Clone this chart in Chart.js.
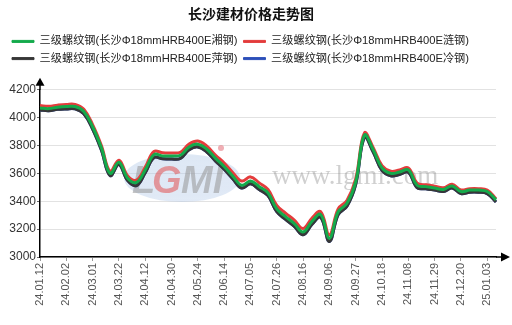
<!DOCTYPE html>
<html>
<head>
<meta charset="utf-8">
<script src="https://cdn.jsdelivr.net/npm/chart.js@4.4.1/dist/chart.umd.min.js"></script>
<style>
  body { margin: 0; background: #fff; }
  #wrap { width: 512px; height: 325px; }
</style>
</head>
<body>
<div id="wrap"><canvas id="chartPrice"></canvas></div>
<script>
// weekly-ish sample points, every 3rd one is a printed tick
var dates = ['24.01.12','24.01.19','24.01.26','24.02.02','24.02.07','24.02.21','24.03.01','24.03.08','24.03.15',
     '24.03.22','24.03.29','24.04.03','24.04.12','24.04.19','24.04.26','24.04.30','24.05.11','24.05.17',
     '24.05.24','24.05.31','24.06.07','24.06.14','24.06.21','24.06.28','24.07.05','24.07.12','24.07.19',
     '24.07.26','24.08.02','24.08.09','24.08.16','24.08.23','24.08.30','24.09.06','24.09.13','24.09.20',
     '24.09.27','24.10.10','24.10.14','24.10.18','24.10.25','24.11.01','24.11.08','24.11.15','24.11.22',
     '24.11.29','24.12.06','24.12.13','24.12.20','24.12.27','24.12.31','25.01.03','25.01.10'];

var xiangGang = [4070,4065,4075,4080,4080,4045,3935,3785,3600,3680,3565,3535,3625,3735,3725,3725,3730,3790,
     3810,3775,3710,3650,3580,3515,3545,3505,3460,3345,3290,3240,3180,3255,3305,3135,3325,3385,
     3540,3875,3770,3640,3600,3610,3625,3515,3505,3495,3485,3510,3470,3480,3480,3470,3410];

var lianGang = [4087,4082,4090,4095,4095,4060,3950,3800,3615,3695,3582,3552,3645,3757,3748,3747,3752,3810,
     3832,3797,3732,3675,3605,3545,3575,3532,3485,3370,3315,3265,3205,3278,3325,3160,3345,3405,
     3560,3890,3785,3655,3615,3625,3640,3530,3518,3508,3497,3522,3482,3490,3490,3480,3418];

var pingGang = [4055,4050,4060,4063,4063,4028,3918,3768,3585,3663,3548,3513,3605,3713,3705,3703,3707,3770,
     3790,3755,3690,3630,3560,3495,3525,3485,3440,3325,3270,3220,3160,3233,3285,3112,3305,3365,
     3522,3860,3753,3622,3583,3592,3608,3498,3490,3480,3470,3495,3455,3465,3465,3455,3395];

var lengGang = [4055,4050,4060,4063,4063,4028,3918,3768,3585,3663,3548,3513,3605,3713,3705,3703,3707,3770,
     3790,3755,3690,3630,3560,3495,3525,3485,3440,3325,3270,3220,3160,3233,3285,3112,3305,3365,
     3522,3860,3753,3622,3583,3592,3608,3498,3490,3480,3470,3495,3455,3465,3465,3455,3395];

var seriesNames = ['三级螺纹钢(长沙Φ18mmHRB400E湘钢)','三级螺纹钢(长沙Φ18mmHRB400E涟钢)',
     '三级螺纹钢(长沙Φ18mmHRB400E萍钢)','三级螺纹钢(长沙Φ18mmHRB400E冷钢)'];
var seriesColors = ['rgb(20,170,75)','rgb(228,60,60)','rgb(55,55,55)','rgb(45,80,185)'];

var yTicks = [3000,3200,3400,3600,3800,4000,4200];

var FONT = '"Liberation Sans", Arial, "Noto Sans CJK SC", sans-serif';

function makeSet(i, values){
     return {
          label: seriesNames[i],
          data: values,
          borderColor: seriesColors[i],
          backgroundColor: seriesColors[i],
          borderWidth: 3,
          pointRadius: 0,
          tension: 0.4
     };
}

// faint watermark + axis arrows
var decor = {
     id: 'decor',
     beforeInit: function(chart){
          var fit = chart.legend.fit;
          chart.legend.fit = function(){
               fit.bind(chart.legend)();
               this.height = 60;
          };
     },
     beforeDatasetsDraw: function(chart){
          var c = chart.ctx;
          c.save();
          var g = c.createLinearGradient(0,152,0,203);
          g.addColorStop(0,'rgba(190,210,235,0.5)');
          g.addColorStop(1,'rgba(170,195,230,0.35)');
          c.fillStyle = g;
          c.beginPath();
          c.ellipse(182,178,58,24,0,0,Math.PI*2);
          c.fill();
          c.font = 'bold italic 38px ' + FONT;
          c.textBaseline = 'alphabetic';
          c.fillStyle = 'rgba(150,150,150,0.55)';
          c.fillText('L',132,193);
          c.fillStyle = 'rgba(225,80,80,0.55)';
          c.fillText('G',152,193);
          c.fillStyle = 'rgba(150,150,150,0.55)';
          c.fillText('MI',181,193);
          c.fillStyle = 'rgba(230,120,130,0.6)';
          c.beginPath();
          c.arc(221,148,3,0,Math.PI*2);
          c.fill();
          c.font = '27px "Liberation Serif", serif';
          c.fillStyle = 'rgba(120,120,120,0.35)';
          c.fillText('www.lgmi.com',272,184);
          c.restore();
     },
     afterDraw: function(chart){
          var c = chart.ctx, a = chart.chartArea;
          c.save();
          c.strokeStyle = '#000';
          c.fillStyle = '#000';
          c.lineWidth = 1.5;
          c.beginPath();
          c.moveTo(a.left, a.top);
          c.lineTo(a.left, a.top - 6);
          c.moveTo(a.right, a.bottom);
          c.lineTo(a.right + 6, a.bottom);
          c.stroke();
          c.beginPath();
          c.moveTo(a.left, a.top - 12);
          c.lineTo(a.left - 4.5, a.top - 4);
          c.lineTo(a.left + 4.5, a.top - 4);
          c.fill();
          c.beginPath();
          c.moveTo(a.right + 14, a.bottom);
          c.lineTo(a.right + 5, a.bottom - 4.5);
          c.lineTo(a.right + 5, a.bottom + 4.5);
          c.fill();
          c.restore();
     }
};

var config = {
     type: 'line',
     data: {
          labels: dates,
          datasets: [makeSet(0, xiangGang), makeSet(1, lianGang), makeSet(2, pingGang), makeSet(3, lengGang)]
     },
     options: {
          responsive: true,
          maintainAspectRatio: false,
          animation: false,
          layout: { padding: { left: 6, right: 16, top: 0, bottom: 0 } },
          plugins: {
               title: {
                    display: true,
                    text: '长沙建材价格走势图',
                    color: '#111',
                    font: { family: FONT, size: 14, weight: 'bold' },
                    padding: { top: 7, bottom: 6 }
               },
               legend: {
                    position: 'top',
                    align: 'start',
                    labels: {
                         color: '#222',
                         font: { family: FONT, size: 11.2 },
                         boxWidth: 22,
                         boxHeight: 2,
                         padding: 6,
                         generateLabels: function(chart){
                              var items = Chart.defaults.plugins.legend.labels.generateLabels(chart);
                              items.forEach(function(it){ it.lineWidth = 1; });
                              return items;
                         }
                    }
               },
               tooltip: { enabled: true }
          },
          scales: {
               x: {
                    afterFit: function(scale){ scale.height = 68; },
                    border: { color: '#000', width: 1.5 },
                    grid: {
                         drawOnChartArea: false,
                         tickLength: 4,
                         color: function(ctx){ return ctx.index % 3 === 0 ? '#999' : 'rgba(0,0,0,0)'; }
                    },
                    ticks: {
                         autoSkip: false,
                         minRotation: 90,
                         maxRotation: 90,
                         padding: 2,
                         color: '#555',
                         font: { family: FONT, size: 11 },
                         callback: function(v, i){ return i % 3 === 0 ? dates[i] : ''; }
                    }
               },
               y: {
                    min: 3000,
                    max: 4200,
                    afterFit: function(scale){ scale.width = 34; },
                    afterBuildTicks: function(scale){
                         scale.ticks = yTicks.map(function(v){ return { value: v }; });
                    },
                    border: { color: '#000', width: 1.5 },
                    grid: { color: '#e2e2e2', tickColor: '#666', tickLength: 3 },
                    ticks: {
                         padding: 1,
                         color: '#333',
                         font: { family: FONT, size: 12 },
                         callback: function(v){ return String(v); }
                    }
               }
          }
     },
     plugins: [decor]
};

window.onload = function() {
     var ctx = document.getElementById('chartPrice').getContext('2d');
     window.myLine = new Chart(ctx, config);
};
</script>
</body>
</html>
